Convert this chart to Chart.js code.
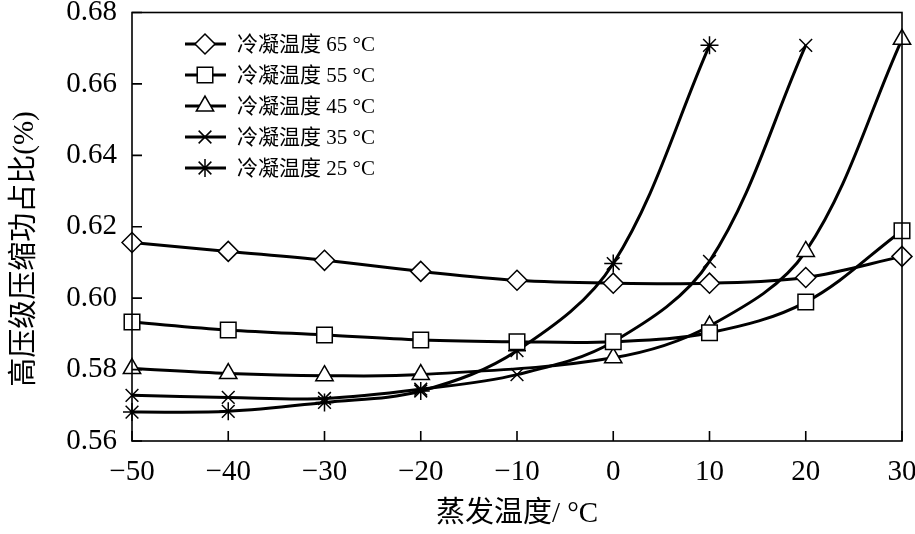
<!DOCTYPE html>
<html>
<head>
<meta charset="utf-8">
<script src="https://cdn.jsdelivr.net/npm/chart.js@4/dist/chart.umd.min.js"></script>
<style>
  html, body { margin: 0; padding: 0; background: #fff; }
  #wrap { width: 915px; height: 534px; }
</style>
</head>
<body>
<div id="wrap"><canvas id="chart" width="915" height="534"></canvas></div>
<script>
// Evaporating temperature (°C) on x, share of high-stage compressor work on y.
const evapTemps = [-50, -40, -30, -20, -10, 0, 10, 20, 30];
const yTicks = [0.56, 0.58, 0.60, 0.62, 0.64, 0.66, 0.68];

const cond65 = [0.6156, 0.6131, 0.6106, 0.6075, 0.6050, 0.6042, 0.6042, 0.6058, 0.6117];
const cond55 = [0.5933, 0.5911, 0.5897, 0.5883, 0.5878, 0.5878, 0.5903, 0.5989, 0.6189];
const cond45 = [0.5803, 0.5789, 0.5783, 0.5786, null, 0.5833, 0.5922, 0.6131, 0.6725];
const cond35 = [0.5728, 0.5722, 0.5719, 0.5745, 0.5786, 0.5878, 0.6103, 0.6708];
const cond25 = [0.5681, 0.5683, 0.5708, 0.5740, 0.5853, 0.6097, 0.6708];

const seriesLabels = ["冷凝温度 65 °C", "冷凝温度 55 °C", "冷凝温度 45 °C", "冷凝温度 35 °C", "冷凝温度 25 °C"];
const seriesValues = [cond65, cond55, cond45, cond35, cond25];
const markers = ["rectRot", "rect", "triangle", "crossRot", "star"];
const markerSizes = [10, 11, 10, 9, 9];

const yTitle = "高压级压缩功占比(%)";
const SERIF = '"Liberation Serif", "Noto Sans CJK SC", serif';

const toPoints = (vals) => vals.map((v, i) => ({ x: evapTemps[i], y: v }));

// frame + inward ticks, like the printed figure
const framePlugin = {
  id: "frame",
  afterDatasetsDraw(chart) {
    const { ctx, chartArea: a, scales: { x, y } } = chart;
    ctx.save();
    ctx.strokeStyle = "#000";
    ctx.lineWidth = 1.6;
    ctx.strokeRect(a.left, a.top, a.right - a.left, a.bottom - a.top);
    ctx.beginPath();
    x.ticks.forEach((t) => {
      const px = x.getPixelForValue(t.value);
      ctx.moveTo(px, a.bottom);
      ctx.lineTo(px, a.bottom - 10);
    });
    y.ticks.forEach((t) => {
      const py = y.getPixelForValue(t.value);
      ctx.moveTo(a.left, py);
      ctx.lineTo(a.left + 10, py);
    });
    ctx.stroke();

    // y title sits a bit below the axis middle in the original
    ctx.translate(25, 249);
    ctx.rotate(-Math.PI / 2);
    ctx.fillStyle = "#000";
    ctx.font = "29px " + SERIF;
    ctx.textAlign = "center";
    ctx.textBaseline = "middle";
    ctx.fillText(yTitle, 0, 0);
    ctx.restore();
  },
};

const legendPlugin = {
  id: "innerLegend",
  afterDraw(chart) {
    const ctx = chart.ctx;
    ctx.save();
    chart.data.datasets.forEach((ds, i) => {
      const yy = 44 + i * 31;
      ctx.strokeStyle = "#000";
      ctx.lineWidth = 3;
      ctx.beginPath();
      ctx.moveTo(185, yy);
      ctx.lineTo(226, yy);
      ctx.stroke();
      ctx.fillStyle = "#fff";
      ctx.lineWidth = 1.5;
      Chart.helpers.drawPoint(ctx, { pointStyle: ds.pointStyle, radius: ds.pointRadius, borderWidth: 1.5, rotation: 0 }, 205, yy);
      ctx.fillStyle = "#000";
      ctx.font = "21px " + SERIF;
      ctx.textBaseline = "middle";
      ctx.textAlign = "left";
      ctx.fillText(ds.label, 237, yy + 1);
    });
    ctx.restore();
  },
};

new Chart(document.getElementById("chart"), {
  type: "line",
  data: {
    datasets: seriesValues.map((vals, i) => ({
      label: seriesLabels[i],
      data: toPoints(vals),
      borderColor: "#000",
      borderWidth: 3,
      tension: 0.35,
      spanGaps: true,
      clip: false,
      pointStyle: markers[i],
      pointRadius: markerSizes[i],
      pointBorderWidth: 1.5,
      pointBackgroundColor: "#fff",
      pointBorderColor: "#000",
    })),
  },
  options: {
    responsive: false,
    animation: false,
    layout: { padding: { top: 9, right: 13, left: 0, bottom: 0 } },
    plugins: { legend: { display: false }, tooltip: { enabled: false } },
    scales: {
      x: {
        type: "linear",
        min: -50,
        max: 30,
        afterBuildTicks: (s) => { s.ticks = evapTemps.map((v) => ({ value: v })); },
        afterFit: (s) => { s.height = 93; s.paddingLeft = 0; s.paddingRight = 0; },
        grid: { display: false, drawTicks: false },
        border: { display: false },
        ticks: {
          color: "#000",
          padding: 14,
          font: { family: SERIF, size: 29 },
          callback: (v) => (v < 0 ? "\u2212" + Math.abs(v) : String(v)),
        },
        title: {
          display: true,
          text: "蒸发温度/ °C",
          color: "#000",
          font: { family: SERIF, size: 29 },
          padding: { top: 0, bottom: 2 },
        },
      },
      y: {
        min: 0.56,
        max: 0.68,
        afterBuildTicks: (s) => { s.ticks = yTicks.map((v) => ({ value: v })); },
        afterFit: (s) => { s.width = 132; s.paddingTop = 0; s.paddingBottom = 0; },
        grid: { display: false, drawTicks: false },
        border: { display: false },
        ticks: {
          color: "#000",
          padding: 15,
          font: { family: SERIF, size: 29 },
          callback: (v) => v.toFixed(2),
        },
        title: { display: false },
      },
    },
  },
  plugins: [framePlugin, legendPlugin],
});
</script>
</body>
</html>
